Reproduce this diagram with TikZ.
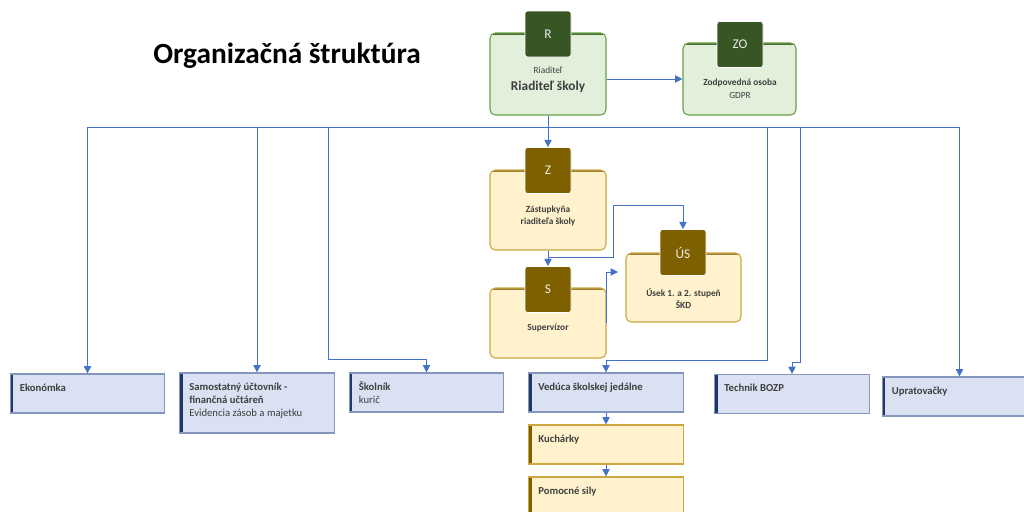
\documentclass[tikz,border=0pt]{standalone}
\usepackage{fontspec}
\setmainfont{Carlito}
\usetikzlibrary{arrows.meta}

\definecolor{linkblue}{HTML}{4472C4}
\definecolor{txtgray}{HTML}{3F3F3F}
\definecolor{grnfill}{HTML}{E2EFDA}
\definecolor{grnline}{HTML}{6A9E4A}
\definecolor{grndark}{HTML}{375623}
\definecolor{ylwfill}{HTML}{FFF2CC}
\definecolor{ylwline}{HTML}{CDA640}
\definecolor{ylwdark}{HTML}{7F6000}
\definecolor{blufill}{HTML}{D9E1F2}
\definecolor{bluline}{HTML}{8496BC}
\definecolor{bludark}{HTML}{1F3864}

\begin{document}
\begin{tikzpicture}
  [x=0.75pt,y=-0.75pt,
   every node/.style={text=txtgray,inner sep=0pt},
   conn/.style={draw=linkblue,line width=0.7pt,-{Triangle[width=5.5pt,length=5.5pt]}},
   badge/.style={rectangle,rounded corners=2pt,minimum size=34.5pt,draw=white,line width=0.5pt,
     text=white!92!black,font=\fontsize{10}{12}\selectfont},
   rbox/.style={rectangle,rounded corners=4pt,line width=0.8pt,minimum width=87pt},
   gbox/.style={rbox,draw=grnline,fill=grnfill,
     path picture={\draw[grnline!70!black,line width=2.4pt] (path picture bounding box.north west) -- (path picture bounding box.north east);}},
   ybox/.style={rbox,draw=ylwline,fill=ylwfill,
     path picture={\draw[ylwdark!80,line width=2.4pt] (path picture bounding box.north west) -- (path picture bounding box.north east);}},
   flat/.style={rectangle,line width=0.9pt,minimum width=116pt,minimum height=29.25pt},
   bluebox/.style={flat,draw=bluline,fill=blufill,
     path picture={\fill[bludark] (path picture bounding box.north west) rectangle ([xshift=2.4pt]path picture bounding box.south west);}},
   ylwbox/.style={flat,draw=ylwline,fill=ylwfill,
     path picture={\fill[ylwdark] (path picture bounding box.north west) rectangle ([xshift=2.4pt]path picture bounding box.south west);}},
   ctxt/.style={align=center,font=\fontsize{7}{9.5}\selectfont\bfseries},
   ltxt/.style={anchor=north west,align=left,xshift=7.5pt,yshift=-5pt,font=\fontsize{8}{10}\selectfont}]

  \useasboundingbox (0,0) rectangle (1024,511);
  \clip (0,0) rectangle (1024,511);

  \node[anchor=base west,text=black,font=\fontsize{22}{26}\selectfont\bfseries] (title) at (153,63) {Organizačná štruktúra};

  % top level
  \node[gbox,minimum height=61.5pt] (rbox) at (548,74) {};
  \node[badge,fill=grndark] (rbadge) at (548,34) {R};
  \node[align=center] (rtxt) at (548,80) {{\fontsize{7}{9}\selectfont Riaditeľ}\\[1pt]{\fontsize{10}{12}\selectfont\bfseries Riaditeľ školy}};

  \node[gbox,minimum width=84.75pt,minimum height=54pt] (zobox) at (739.5,79) {};
  \node[badge,fill=grndark] (zobadge) at (740,44.5) {ZO};
  \node[align=center,font=\fontsize{7}{9.5}\selectfont] (zotxt) at (740,89) {\textbf{Zodpovedná osoba}\\GDPR};

  % deputy and below
  \node[ybox,minimum height=60pt] (zbox) at (548,210) {};
  \node[badge,fill=ylwdark] (zbadge) at (548,170.5) {Z};
  \node[ctxt] (ztxt) at (548,216) {Zástupkyňa\\riaditeľa školy};

  \node[ybox,minimum height=52.5pt] (sbox) at (548,323) {};
  \node[badge,fill=ylwdark] (sbadge) at (548,289.5) {S};
  \node[ctxt] (stxt) at (548,328) {Supervízor};

  \node[ybox,minimum width=86.25pt,minimum height=51.75pt] (usbox) at (683.5,287.5) {};
  \node[badge,fill=ylwdark] (usbadge) at (683,252.5) {ÚS};
  \node[ctxt] (ustxt) at (683.5,298.5) {Úsek 1. a 2. stupeň\\ŠKD};

  % bottom row
  \node[bluebox] (ekon) at (87.5,393.5) {};
  \node[ltxt] (ekontxt) at (ekon.north west) {\rule{0pt}{8pt}\textbf{Ekonómka}};
  \node[bluebox,minimum height=45pt] (ucto) at (257,403) {};
  \node[ltxt] (uctotxt) at (ucto.north west) {\rule{0pt}{8pt}\textbf{Samostatný účtovník -}\\\textbf{finančná učtáreň}\\Evidencia zásob a majetku};
  \node[bluebox] (skol) at (426.5,392.5) {};
  \node[ltxt] (skoltxt) at (skol.north west) {\rule{0pt}{8pt}\textbf{Školník}\\kurič};
  \node[bluebox] (ved) at (606,392.5) {};
  \node[ltxt] (vedtxt) at (ved.north west) {\rule{0pt}{8pt}\textbf{Vedúca školskej jedálne}};
  \node[ylwbox] (kuch) at (606,444.5) {};
  \node[ltxt] (kuchtxt) at (kuch.north west) {\rule{0pt}{8pt}\textbf{Kuchárky}};
  \node[ylwbox] (pom) at (606,496.5) {};
  \node[ltxt] (pomtxt) at (pom.north west) {\rule{0pt}{8pt}\textbf{Pomocné sily}};
  \node[bluebox] (tech) at (792,394) {};
  \node[ltxt] (techtxt) at (tech.north west) {\rule{0pt}{8pt}\textbf{Technik BOZP}};
  \node[bluebox] (uprat) at (959.5,396.5) {};
  \node[ltxt] (uprattxt) at (uprat.north west) {\rule{0pt}{8pt}\textbf{Upratovačky}};

  \coordinate (bus) at (548,127);
  \coordinate (zsplit) at (548,257);
  \coordinate (usin) at (618,272);

  % connectors
  \draw[conn] (rbox.east |- zobox.west) -- (zobox.west);
  \draw[conn] (rbox.south) -- (zbadge.north);
  \draw[conn] (bus) -| (ekon.north);
  \draw[conn] (bus) -| (ucto.north);
  \draw[conn] (bus) -| (328,359) -| (skol.north);
  \draw[conn] (bus) -| (767,360) -| (ved.north);
  \draw[conn] (bus) -| (800,362) -| (tech.north);
  \draw[conn] (bus) -| (uprat.north);
  \draw[conn] (zbox.south) -- (sbadge.north);
  \draw[conn] (zsplit) -| (613,205) -| (usbadge.north);
  \draw[conn] (sbox.east) |- (usin);
  \draw[conn] (ved.south) -- (kuch.north);
  \draw[conn] (kuch.south) -- (pom.north);

\end{tikzpicture}
\end{document}
